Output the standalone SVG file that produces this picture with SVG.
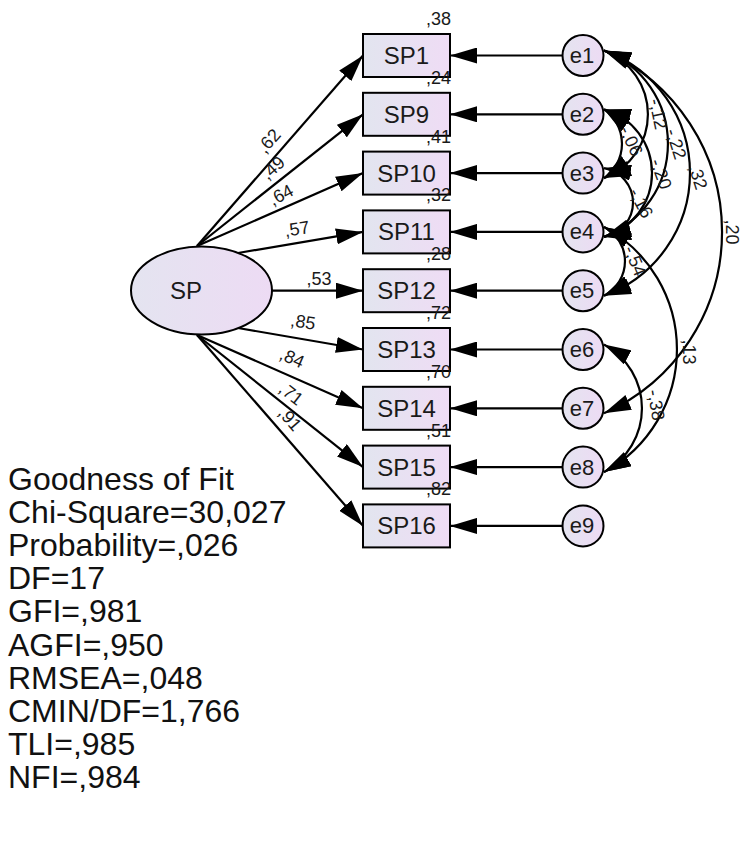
<svg xmlns="http://www.w3.org/2000/svg" width="743" height="841" viewBox="0 0 743 841">
<style>
.box{stroke:#000;stroke-width:2;fill:url(#gb)}
.circ{stroke:#000;stroke-width:2;fill:url(#gc)}
.ln{stroke:#000;stroke-width:2.2;fill:none}
.arr{marker-end:url(#ah)}
.cov{marker-start:url(#ah);marker-end:url(#ah)}
.nt{font-family:"Liberation Sans",Arial,sans-serif;font-size:24px;fill:#1a1a1a;text-anchor:middle;dominant-baseline:central}
.et{font-family:"Liberation Sans",Arial,sans-serif;font-size:22px;fill:#1a1a1a;text-anchor:middle;dominant-baseline:central}
.lb{font-family:"Liberation Sans",Arial,sans-serif;font-size:18px;fill:#1a1a1a;text-anchor:middle;dominant-baseline:central}
.r2{font-family:"Liberation Sans",Arial,sans-serif;font-size:18px;fill:#1a1a1a;text-anchor:end}
.fit{font-family:"Liberation Sans",Arial,sans-serif;font-size:32px;fill:#111}
</style>
<defs>
<linearGradient id="gb" x1="0" y1="0" x2="1" y2="0"><stop offset="0" stop-color="#e2e5ef"/><stop offset="1" stop-color="#efdcf5"/></linearGradient>
<linearGradient id="gc" x1="0" y1="0" x2="1" y2="0"><stop offset="0" stop-color="#e4e4f0"/><stop offset="1" stop-color="#eddbf4"/></linearGradient>
<marker id="ah" markerUnits="userSpaceOnUse" markerWidth="27" markerHeight="16" refX="27" refY="8" orient="auto-start-reverse"><path d="M0,0 L27,8 L0,16 z" fill="#000"/></marker>
</defs>
<rect width="743" height="841" fill="#fff"/>

<g id="connectors">
<line class="ln arr" x1="197" y1="246" x2="363" y2="55.5"/>
<line class="ln arr" x1="197" y1="246" x2="363" y2="114.3"/>
<line class="ln arr" x1="197" y1="246" x2="363" y2="173.1"/>
<line class="ln arr" x1="238" y1="253" x2="363" y2="231.9"/>
<line class="ln arr" x1="272" y1="290.7" x2="363" y2="290.7"/>
<line class="ln arr" x1="238" y1="328" x2="363" y2="349.5"/>
<line class="ln arr" x1="197" y1="335" x2="363" y2="408.3"/>
<line class="ln arr" x1="197" y1="335" x2="363" y2="467.1"/>
<line class="ln arr" x1="197" y1="335" x2="363" y2="525.9"/>
<line class="ln arr" x1="562" y1="55.5" x2="450" y2="55.5"/>
<line class="ln arr" x1="562" y1="114.3" x2="450" y2="114.3"/>
<line class="ln arr" x1="562" y1="173.1" x2="450" y2="173.1"/>
<line class="ln arr" x1="562" y1="231.9" x2="450" y2="231.9"/>
<line class="ln arr" x1="562" y1="290.7" x2="450" y2="290.7"/>
<line class="ln arr" x1="562" y1="349.5" x2="450" y2="349.5"/>
<line class="ln arr" x1="562" y1="408.3" x2="450" y2="408.3"/>
<line class="ln arr" x1="562" y1="467.1" x2="450" y2="467.1"/>
<line class="ln arr" x1="562" y1="525.9" x2="450" y2="525.9"/>
<path class="ln cov" d="M604,50.5 A68.3,68.3 0 0 1 604,178.1"/>
<path class="ln cov" d="M604,50.5 A99.9,99.9 0 0 1 604,236.9"/>
<path class="ln cov" d="M604,50.5 A130.4,130.4 0 0 1 604,295.7"/>
<path class="ln cov" d="M604,50.5 A198.4,198.4 0 0 1 604,413.3"/>
<path class="ln cov" d="M604,109.3 A41.9,41.9 0 0 1 604,178.1"/>
<path class="ln cov" d="M604,109.3 A66.4,66.4 0 0 1 604,236.9"/>
<path class="ln cov" d="M604,168.1 A34.9,34.9 0 0 1 604,236.9"/>
<path class="ln cov" d="M604,226.9 A38.7,38.7 0 0 1 604,295.7"/>
<path class="ln cov" d="M604,226.9 A139.5,139.5 0 0 1 604,472.1"/>
<path class="ln cov" d="M604,344.5 A72.6,72.6 0 0 1 604,472.1"/>
</g>

<g id="SP"><ellipse cx="201.5" cy="290.5" rx="70.5" ry="44" class="box" style="fill:url(#gc)"/><text class="nt" x="186" y="290.5">SP</text></g>

<g id="SP1"><rect class="box" x="363" y="34" width="87" height="43"/><text class="nt" x="406.5" y="55.5">SP1</text></g>
<g id="SP9"><rect class="box" x="363" y="92.8" width="87" height="43"/><text class="nt" x="406.5" y="114.3">SP9</text></g>
<g id="SP10"><rect class="box" x="363" y="151.6" width="87" height="43"/><text class="nt" x="406.5" y="173.1">SP10</text></g>
<g id="SP11"><rect class="box" x="363" y="210.4" width="87" height="43"/><text class="nt" x="406.5" y="231.9">SP11</text></g>
<g id="SP12"><rect class="box" x="363" y="269.2" width="87" height="43"/><text class="nt" x="406.5" y="290.7">SP12</text></g>
<g id="SP13"><rect class="box" x="363" y="328" width="87" height="43"/><text class="nt" x="406.5" y="349.5">SP13</text></g>
<g id="SP14"><rect class="box" x="363" y="386.8" width="87" height="43"/><text class="nt" x="406.5" y="408.3">SP14</text></g>
<g id="SP15"><rect class="box" x="363" y="445.6" width="87" height="43"/><text class="nt" x="406.5" y="467.1">SP15</text></g>
<g id="SP16"><rect class="box" x="363" y="504.4" width="87" height="43"/><text class="nt" x="406.5" y="525.9">SP16</text></g>

<g id="e1"><circle class="circ" cx="583" cy="55.5" r="20.5"/><text class="et" x="582" y="55.5">e1</text></g>
<g id="e2"><circle class="circ" cx="583" cy="114.3" r="20.5"/><text class="et" x="582" y="114.3">e2</text></g>
<g id="e3"><circle class="circ" cx="583" cy="173.1" r="20.5"/><text class="et" x="582" y="173.1">e3</text></g>
<g id="e4"><circle class="circ" cx="583" cy="231.9" r="20.5"/><text class="et" x="582" y="231.9">e4</text></g>
<g id="e5"><circle class="circ" cx="583" cy="290.7" r="20.5"/><text class="et" x="582" y="290.7">e5</text></g>
<g id="e6"><circle class="circ" cx="583" cy="349.5" r="20.5"/><text class="et" x="582" y="349.5">e6</text></g>
<g id="e7"><circle class="circ" cx="583" cy="408.3" r="20.5"/><text class="et" x="582" y="408.3">e7</text></g>
<g id="e8"><circle class="circ" cx="583" cy="467.1" r="20.5"/><text class="et" x="582" y="467.1">e8</text></g>
<g id="e9"><circle class="circ" cx="583" cy="525.9" r="20.5"/><text class="et" x="582" y="525.9">e9</text></g>

<g id="weights">
<text class="lb" transform="translate(269,141) rotate(-49)">,62</text>
<text class="lb" transform="translate(273,168) rotate(-42)">,49</text>
<text class="lb" transform="translate(281,195) rotate(-28)">,64</text>
<text class="lb" transform="translate(297,229) rotate(-9)">,57</text>
<text class="lb" transform="translate(319,279)">,53</text>
<text class="lb" transform="translate(303,322) rotate(9)">,85</text>
<text class="lb" transform="translate(292,358) rotate(24)">,84</text>
<text class="lb" transform="translate(291,394) rotate(38)">,71</text>
<text class="lb" transform="translate(290,419) rotate(49)">,91</text>
</g>

<g id="r2">
<text class="r2" x="451" y="25">,38</text>
<text class="r2" x="451" y="84">,24</text>
<text class="r2" x="451" y="142.6">,41</text>
<text class="r2" x="451" y="201.4">,32</text>
<text class="r2" x="451" y="260.2">,28</text>
<text class="r2" x="451" y="319">,72</text>
<text class="r2" x="451" y="377.8">,70</text>
<text class="r2" x="451" y="436.6">,51</text>
<text class="r2" x="451" y="495.4">,82</text>
</g>

<g id="covlabels">
<text class="lb" transform="translate(658,114) rotate(78)">-,12</text>
<text class="lb" transform="translate(676,144) rotate(72)">-,22</text>
<text class="lb" transform="translate(698,177) rotate(72)">,32</text>
<text class="lb" transform="translate(732,232) rotate(90)">,20</text>
<text class="lb" transform="translate(631,141) rotate(65)">-,06</text>
<text class="lb" transform="translate(661,174) rotate(70)">-,20</text>
<text class="lb" transform="translate(641,203) rotate(62)">-,16</text>
<text class="lb" transform="translate(635,261) rotate(68)">-,54</text>
<text class="lb" transform="translate(689,352) rotate(90)">,13</text>
<text class="lb" transform="translate(656,405) rotate(80)">-,38</text>
</g>

<g id="fit">
<text class="fit" x="8" y="490">Goodness of Fit</text>
<text class="fit" x="8" y="523.1">Chi-Square=30,027</text>
<text class="fit" x="8" y="556.2">Probability=,026</text>
<text class="fit" x="8" y="589.3">DF=17</text>
<text class="fit" x="8" y="622.4">GFI=,981</text>
<text class="fit" x="8" y="655.5">AGFI=,950</text>
<text class="fit" x="8" y="688.6">RMSEA=,048</text>
<text class="fit" x="8" y="721.7">CMIN/DF=1,766</text>
<text class="fit" x="8" y="754.8">TLI=,985</text>
<text class="fit" x="8" y="787.9">NFI=,984</text>
</g>
</svg>
